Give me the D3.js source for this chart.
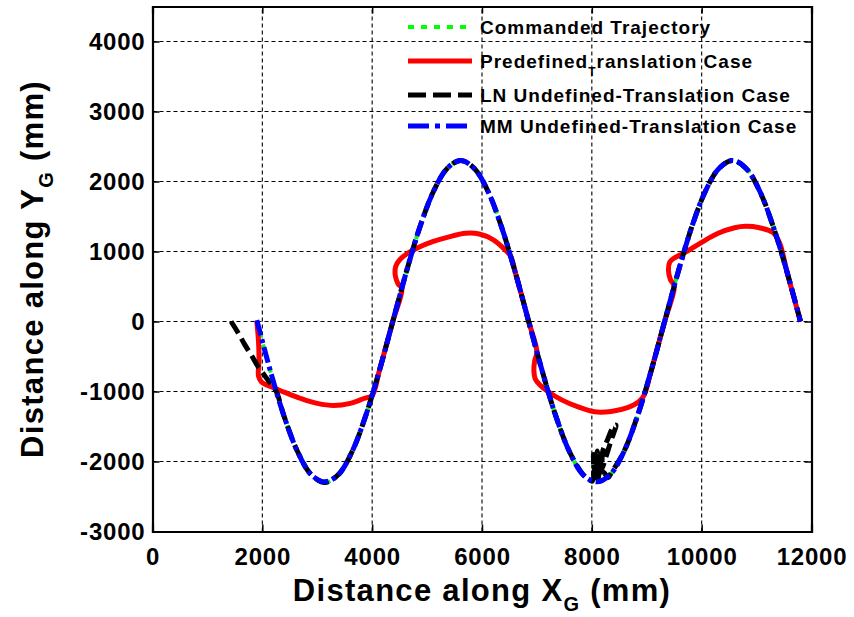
<!DOCTYPE html>
<html>
<head>
<meta charset="utf-8">
<script src="https://cdn.jsdelivr.net/npm/d3@7"></script>
<style>
  body { margin: 0; background: #fff; }
  svg { display: block; }
  text { font-family: "Liberation Sans", Arial, sans-serif; font-weight: bold; fill: #000; }
</style>
</head>
<body>
<svg id="chart" width="854" height="617"></svg>
<script>
// ---- Data (mm) ----
const xTicks = [0, 2000, 4000, 6000, 8000, 10000, 12000];
const yTicks = [-3000, -2000, -1000, 0, 1000, 2000, 3000, 4000];

// Commanded trajectory
const cmdX = [1900, 2148, 2395, 2643, 2890, 3138, 3385, 3633, 3880, 4128, 4375, 4623, 4870, 5118, 5365, 5613, 5860, 6108, 6355, 6603, 6850, 7098, 7345, 7593, 7840, 8088, 8335, 8583, 8830, 9078, 9325, 9573, 9820, 10068, 10315, 10563, 10810, 11058, 11305, 11553, 11800];
const cmdY = [0, -711, -1352, -1861, -2187, -2300, -2187, -1861, -1352, -711, 0, 711, 1352, 1861, 2187, 2300, 2187, 1861, 1352, 711, 0, -711, -1352, -1861, -2187, -2300, -2187, -1861, -1352, -711, 0, 711, 1352, 1861, 2187, 2300, 2187, 1861, 1352, 711, 0];

// Predefined translation case
const predX = [1900, 1930, 1940, 1930, 1980, 2150, 2400, 2700, 3000, 3300, 3600, 3850, 4000, 4128, 4375, 4540, 4470, 4420, 4430, 4500, 4620, 4850, 5100, 5400, 5700, 5950, 6200, 6400, 6520, 6603, 6850, 7000, 6960, 6945, 6970, 7060, 7200, 7450, 7750, 8050, 8350, 8650, 8850, 8950, 9078, 9325, 9500, 9430, 9395, 9420, 9530, 9750, 10000, 10300, 10600, 10800, 11050, 11300, 11420, 11480, 11553, 11800];
const predY = [0, -280, -550, -780, -860, -930, -1010, -1100, -1170, -1200, -1170, -1100, -1055, -711, 0, 470, 540, 660, 790, 880, 960, 1060, 1140, 1210, 1260, 1250, 1170, 1040, 935, 711, 0, -435, -560, -700, -820, -910, -1000, -1120, -1220, -1290, -1285, -1230, -1150, -1055, -711, 0, 505, 600, 730, 850, 920, 1010, 1130, 1260, 1340, 1360, 1340, 1270, 1120, 960, 711, 0];

// LN undefined-translation case
const lnX = [1430, 1550, 1680, 1800, 1920, 2050, 2160, 2250, 2395, 2643, 2890, 3138, 3385, 3633, 3880, 4128, 4375, 4623, 4870, 5118, 5365, 5613, 5860, 6108, 6355, 6603, 6850, 7098, 7345, 7593, 7840, 7950, 8010, 8030, 8060, 8100, 8120, 8150, 8180, 8200, 8280, 8380, 8440, 8350, 8250, 8180, 8140, 8100, 8200, 8300, 8335, 8583, 8830, 9078, 9325, 9573, 9820, 10068, 10315, 10563, 10810, 11058, 11305, 11553, 11800];
const lnY = [0, -150, -330, -480, -640, -780, -900, -990, -1352, -1861, -2187, -2300, -2187, -1861, -1352, -711, 0, 711, 1352, 1861, 2187, 2300, 2187, 1861, 1352, 711, 0, -711, -1352, -1861, -2187, -2260, -2280, -1900, -2250, -1850, -2230, -1900, -2150, -1850, -1700, -1520, -1480, -1700, -1950, -2100, -2000, -2250, -2150, -2230, -2187, -1861, -1352, -711, 0, 711, 1352, 1861, 2187, 2300, 2187, 1861, 1352, 711, 0];

// MM undefined-translation case
const mmX = [1900, 2148, 2395, 2643, 2890, 3138, 3385, 3633, 3880, 4128, 4375, 4623, 4870, 5118, 5365, 5613, 5860, 6108, 6355, 6603, 6850, 7098, 7345, 7593, 7840, 8088, 8335, 8583, 8830, 9078, 9325, 9573, 9820, 10068, 10315, 10563, 10810, 11058, 11305, 11553, 11800];
const mmY = [20, -711, -1352, -1861, -2187, -2290, -2187, -1861, -1352, -711, 0, 711, 1352, 1861, 2187, 2300, 2187, 1861, 1352, 711, 0, -711, -1352, -1861, -2187, -2290, -2187, -1861, -1352, -711, 0, 711, 1352, 1861, 2187, 2300, 2187, 1861, 1352, 711, 0];

const series = [
  { name: "Commanded Trajectory", xs: cmdX, ys: cmdY, color: "#00ff00", width: 4, dash: "5,7", legDash: "6,7" },
  { name: "Predefined_Translation Case", xs: predX, ys: predY, color: "#ff0000", width: 5, dash: null, legDash: null },
  { name: "LN Undefined-Translation Case", xs: lnX, ys: lnY, color: "#000000", width: 5, dash: "14,6", legDash: "18,7" },
  { name: "MM Undefined-Translation Case", xs: mmX, ys: mmY, color: "#0000ff", width: 5, dash: "16,4,4,4", legDash: "21,6,5,6" }
];

// ---- Layout ----
const svg = d3.select("#chart");
const L = 152.5, R = 811.5, T = 6.5, B = 531.5;
const x = d3.scaleLinear().domain([0, 12000]).range([L, R]);
const y = d3.scaleLinear().domain([-3000, 4500]).range([B, T]);

// clip for data lines
svg.append("defs").append("clipPath").attr("id", "plotclip")
  .append("rect").attr("x", L).attr("y", T).attr("width", R - L).attr("height", B - T);

// grid
const grid = svg.append("g").attr("stroke", "#000").attr("stroke-width", 1.1).attr("stroke-dasharray", "4,3");
grid.selectAll("line.gx").data(xTicks.filter(v => v > 0 && v < 12000)).join("line")
  .attr("x1", d => x(d)).attr("x2", d => x(d)).attr("y1", B).attr("y2", T);
grid.selectAll("line.gy").data(yTicks.filter(v => v > -3000)).join("line")
  .attr("y1", d => y(d)).attr("y2", d => y(d)).attr("x1", L).attr("x2", R);

// data lines
const line = d3.line().x(d => x(d[0])).y(d => y(d[1])).curve(d3.curveCatmullRom.alpha(0.5));
const plot = svg.append("g").attr("clip-path", "url(#plotclip)");
series.forEach(s => {
  const pts = s.xs.map((v, i) => [v, s.ys[i]]);
  plot.append("path").datum(pts)
    .attr("d", line)
    .attr("fill", "none")
    .attr("stroke", s.color)
    .attr("stroke-width", s.width)
    .attr("stroke-linejoin", "round")
    .attr("stroke-dasharray", s.dash);
});

// axes (ticks pointing inward, mirrored on top and right)
const fmt = d => String(d);
const axB = svg.append("g").attr("transform", `translate(0,${B})`)
  .call(d3.axisBottom(x).tickValues(xTicks).tickFormat(fmt).tickSize(-7).tickPadding(16));
const axL = svg.append("g").attr("transform", `translate(${L},0)`)
  .call(d3.axisLeft(y).tickValues(yTicks).tickFormat(fmt).tickSize(-7).tickPadding(7));
const axT = svg.append("g").attr("transform", `translate(0,${T})`)
  .call(d3.axisTop(x).tickValues(xTicks).tickFormat("").tickSize(-7));
const axR = svg.append("g").attr("transform", `translate(${R},0)`)
  .call(d3.axisRight(y).tickValues(yTicks).tickFormat("").tickSize(-7));
[axB, axL, axT, axR].forEach(g => {
  g.select(".domain").attr("stroke", "#000").attr("stroke-width", 2.2);
  g.selectAll(".tick line").attr("stroke", "#000").attr("stroke-width", 1.5);
  g.selectAll(".tick text").attr("font-size", 24).attr("letter-spacing", "0.8px")
    .attr("font-family", "'Liberation Sans', Arial, sans-serif").attr("font-weight", "bold").attr("fill", "#000");
});

// axis titles
const xt = svg.append("text").attr("x", (L + R) / 2).attr("y", 601).attr("text-anchor", "middle")
  .attr("font-size", 31).attr("letter-spacing", "1.3px");
xt.append("tspan").text("Distance along X");
xt.append("tspan").attr("font-size", 20).attr("dy", 10).text("G");
xt.append("tspan").attr("dy", -10).text(" (mm)");

const yt = svg.append("text").attr("transform", `translate(43,${(T + B) / 2}) rotate(-90)`)
  .attr("text-anchor", "middle").attr("font-size", 31).attr("letter-spacing", "1.3px");
yt.append("tspan").text("Distance along Y");
yt.append("tspan").attr("font-size", 20).attr("dy", 10).text("G");
yt.append("tspan").attr("dy", -10).text(" (mm)");

// legend
const legRows = [27, 61, 95, 126];
const leg = svg.append("g");
series.forEach((s, i) => {
  leg.append("line").attr("x1", 408).attr("x2", 472).attr("y1", legRows[i]).attr("y2", legRows[i])
    .attr("stroke", s.color).attr("stroke-width", s.width)
    .attr("stroke-dasharray", s.legDash);
  const t = leg.append("text").attr("x", 480).attr("y", legRows[i] + 7).attr("font-size", 19)
    .attr("letter-spacing", "1px");
  if (s.name.includes("_")) {
    const [a, b] = s.name.split("_");
    t.append("tspan").text(a);
    t.append("tspan").attr("font-size", 12).attr("dy", 8).text(b[0]);
    t.append("tspan").attr("dy", -8).text(b.slice(1));
  } else {
    t.text(s.name);
  }
});
</script>
</body>
</html>
